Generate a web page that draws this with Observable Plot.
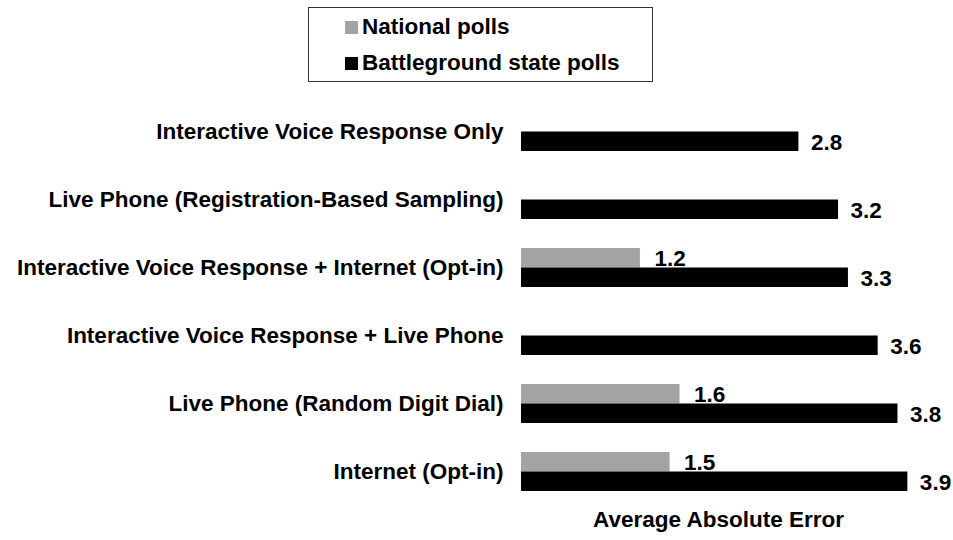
<!DOCTYPE html>
<html>
<head>
<meta charset="utf-8">
<script src="https://cdn.jsdelivr.net/npm/d3@7"></script>
<script src="https://cdn.jsdelivr.net/npm/@observablehq/plot@0.6"></script>
<style>
  html, body { margin: 0; padding: 0; background: #fff; }
  #wrap { position: relative; width: 953px; height: 540px; font-family: "Liberation Sans", Arial, sans-serif; font-weight: bold; color: #000; }
  #chart { position: absolute; left: 0; top: 0; }
  #legend { position: absolute; left: 308px; top: 7px; width: 343px; height: 73px; border: 1.5px solid #333; box-sizing: content-box; }
  .item { position: absolute; left: 36px; display: flex; align-items: center; font-size: 22.5px; line-height: 22px; white-space: nowrap; }
  .sw { width: 13px; height: 13px; margin-right: 4px; }
</style>
</head>
<body>
<div id="wrap">
  <div id="chart"></div>
  <div id="legend"></div>
</div>
<script>
// Polling modes and their average absolute error
const categories = [
  "Interactive Voice Response Only",
  "Live Phone (Registration-Based Sampling)",
  "Interactive Voice Response + Internet (Opt-in)",
  "Interactive Voice Response + Live Phone",
  "Live Phone (Random Digit Dial)",
  "Internet (Opt-in)"
];
const national = [null, null, 1.2, null, 1.6, 1.5];
const battleground = [2.8, 3.2, 3.3, 3.6, 3.8, 3.9];
const seriesNames = ["National polls", "Battleground state polls"];
const seriesColors = ["#a3a3a3", "#000000"];
const axisTitle = "Average Absolute Error";

const rows = [];
categories.forEach((c, i) => {
  if (national[i] != null) rows.push({category: c, series: seriesNames[0], value: national[i]});
  if (battleground[i] != null) rows.push({category: c, series: seriesNames[1], value: battleground[i]});
});
const natRows = rows.filter(d => d.series === seriesNames[0]);
const batRows = rows.filter(d => d.series === seriesNames[1]);

const half = 19.5; // each series takes one half of the category band

const plot = Plot.plot({
  width: 953,
  height: 540,
  marginLeft: 521,
  marginRight: 6,
  marginTop: 81,
  marginBottom: 18,
  style: {fontFamily: "'Liberation Sans', Arial, sans-serif", fontSize: "22.5px", fontWeight: "bold", color: "#000", background: "transparent"},
  x: {domain: [0, 4.3], axis: null},
  y: {domain: categories, padding: 0.4315, axis: null},
  color: {domain: seriesNames, range: seriesColors},
  marks: [
    Plot.barX(natRows, {x: "value", y: "category", fill: "series", insetBottom: half, insetTop: 0}),
    Plot.barX(batRows, {x: "value", y: "category", fill: "series", insetTop: half, insetBottom: 0}),
    Plot.text(natRows, {x: "value", y: "category", text: d => d.value.toFixed(1), dx: 14, dy: -half / 2 + 1, textAnchor: "start", fill: "#000"}),
    Plot.text(batRows, {x: "value", y: "category", text: d => d.value.toFixed(1), dx: 12, dy: half / 2 + 1, textAnchor: "start", fill: "#000"}),
    Plot.axisY({tickSize: 0, tickPadding: 18, label: null, fill: "#000"}),
    Plot.text([axisTitle], {frameAnchor: "bottom", dx: -16, dy: 4, text: d => d, fill: "#000"})
  ]
});
document.getElementById("chart").appendChild(plot);

// Legend box
const legend = document.getElementById("legend");
seriesNames.forEach((name, i) => {
  const item = document.createElement("div");
  item.className = "item";
  item.style.top = (i === 0 ? 8 : 44) + "px";
  const sw = document.createElement("span");
  sw.className = "sw";
  sw.style.background = seriesColors[i];
  const label = document.createElement("span");
  label.textContent = name;
  item.appendChild(sw);
  item.appendChild(label);
  legend.appendChild(item);
});
</script>
</body>
</html>
